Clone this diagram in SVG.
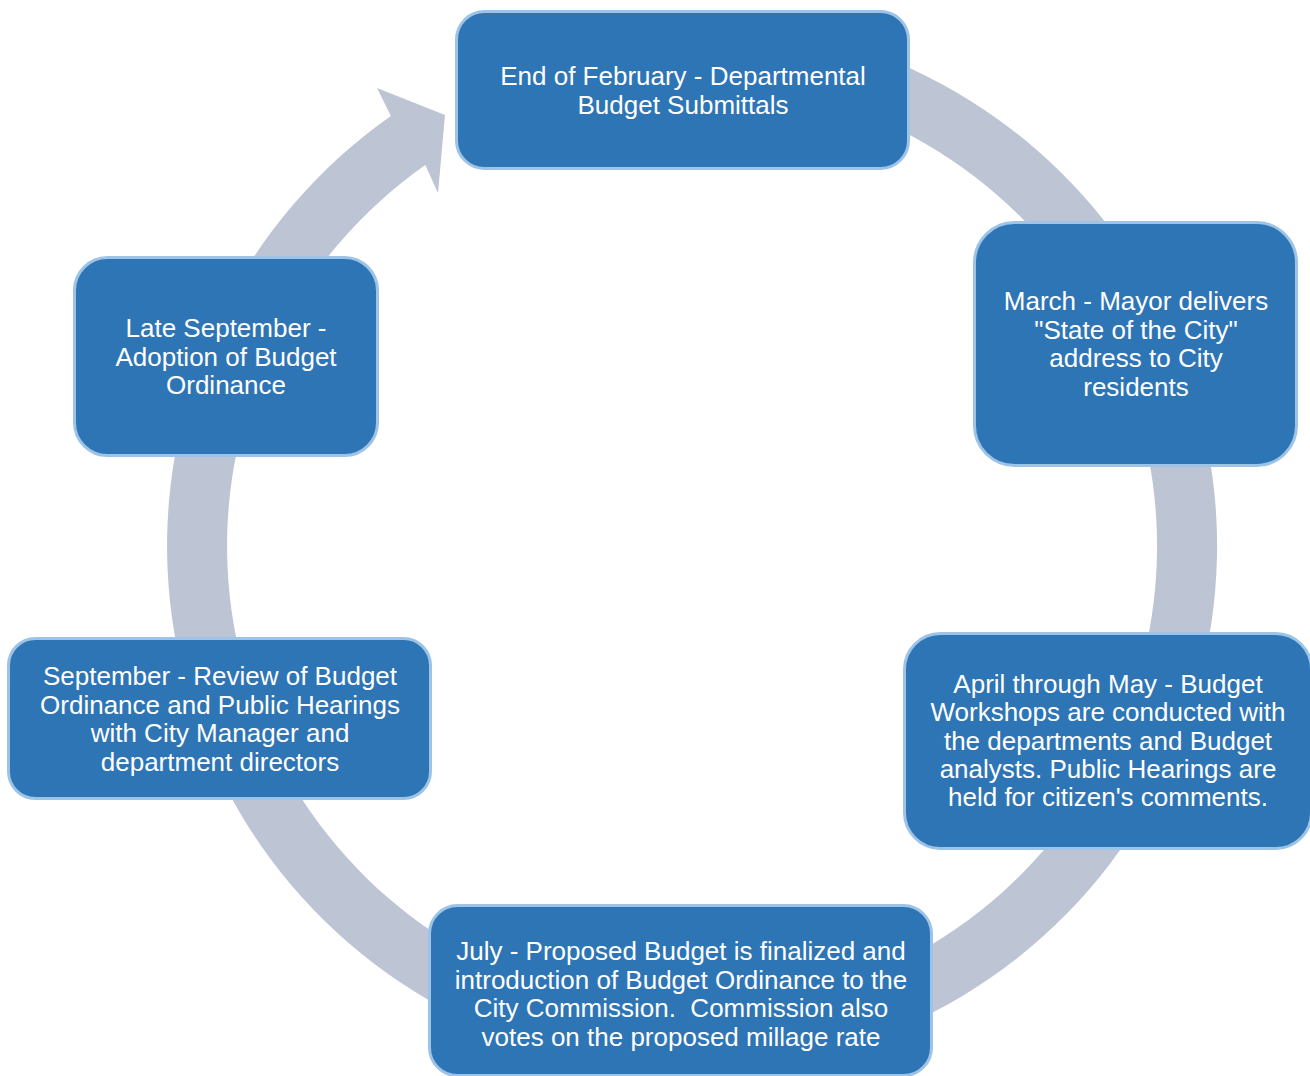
<svg xmlns="http://www.w3.org/2000/svg" width="1310" height="1076" viewBox="0 0 1310 1076">
  <style>
    .step rect { fill: #2E75B6; stroke: #9DC3E6; stroke-width: 3; }
    .step text { fill: #FFFFFF; font-family: "Liberation Sans", Arial, sans-serif; font-size: 26px; text-anchor: middle; white-space: pre; }
    .ring { fill: #BDC4D4; }
  </style>
  <rect width="1310" height="1076" fill="#FFFFFF"/>

  <!-- circular arrow running clockwise behind the steps -->
  <g id="connectors">
    <path class="ring" d="M512.44,52.66 A525,525 0 1 1 390.9,115.95 L377,88 L445,115 L438,193 L425.3,165.1 A465,465 0 1 0 532.96,109.04 Z"/>
  </g>

  <g id="step-february" class="step">
    <rect x="456.5" y="11.5" width="452" height="157" rx="28"/>
    <text x="683" y="85">End of February - Departmental</text>
    <text x="683" y="113.5">Budget Submittals</text>
  </g>

  <g id="step-march" class="step">
    <rect x="974.5" y="222.5" width="322" height="243" rx="40"/>
    <text x="1136" y="310">March - Mayor delivers</text>
    <text x="1136" y="338.5">"State of the City"</text>
    <text x="1136" y="367">address to City</text>
    <text x="1136" y="395.5">residents</text>
  </g>

  <g id="step-april" class="step">
    <rect x="904.5" y="633.5" width="407" height="215" rx="36"/>
    <text x="1108" y="693">April through May - Budget</text>
    <text x="1108" y="721">Workshops are conducted with</text>
    <text x="1108" y="749.5">the departments and Budget</text>
    <text x="1108" y="777.5">analysts. Public Hearings are</text>
    <text x="1108" y="806">held for citizen's comments.</text>
  </g>

  <g id="step-july" class="step">
    <rect x="429.5" y="905.5" width="502" height="170" rx="28"/>
    <text x="681" y="960">July - Proposed Budget is finalized and</text>
    <text x="681" y="988.5">introduction of Budget Ordinance to the</text>
    <text x="681" y="1017" xml:space="preserve">City Commission.  Commission also</text>
    <text x="681" y="1045.5">votes on the proposed millage rate</text>
  </g>

  <g id="step-september" class="step">
    <rect x="8.5" y="638.5" width="422" height="160" rx="27"/>
    <text x="220" y="685">September - Review of Budget</text>
    <text x="220" y="713.5">Ordinance and Public Hearings</text>
    <text x="220" y="742">with City Manager and</text>
    <text x="220" y="770.5">department directors</text>
  </g>

  <g id="step-late-september" class="step">
    <rect x="74.5" y="257.5" width="303" height="198" rx="33"/>
    <text x="226" y="337">Late September -</text>
    <text x="226" y="365.5">Adoption of Budget</text>
    <text x="226" y="394">Ordinance</text>
  </g>
</svg>
